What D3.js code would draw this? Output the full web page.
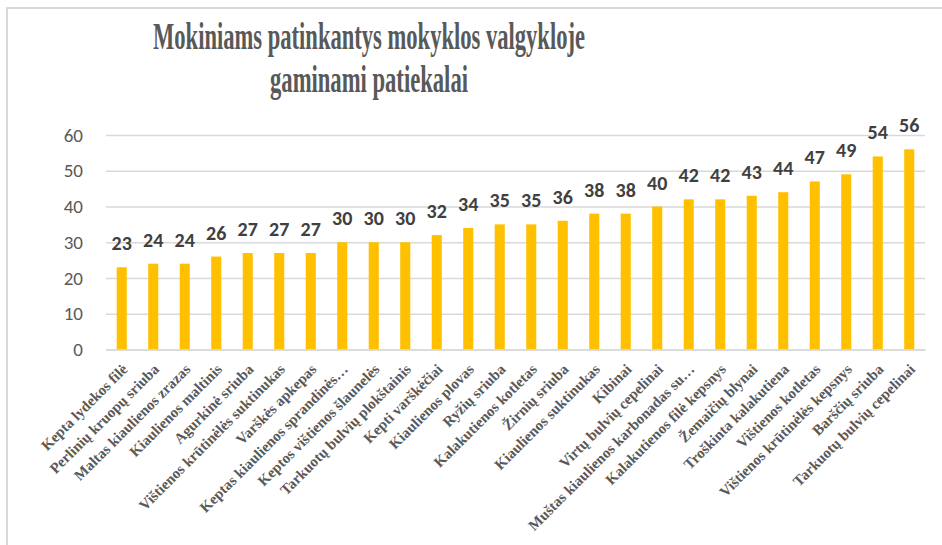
<!DOCTYPE html>
<html>
<head>
<meta charset="utf-8">
<script src="https://cdn.jsdelivr.net/npm/d3@7"></script>
<style>
  body { margin: 0; background: #fff; }
  svg { display: block; }
</style>
</head>
<body>
<svg id="chart" width="942" height="545"></svg>
<script>
// dishes, sorted as in the source chart
var dishes = [
  "Kepta lydekos filė", "Perlinių kruopų sriuba", "Maltas kiaulienos zrazas",
  "Kiaulienos maltinis", "Agurkinė sriuba", "Vištienos krūtinėlės suktinukas",
  "Varškės apkepas", "Keptas kiaulienos sprandinės…", "Keptos vištienos šlaunelės",
  "Tarkuotų bulvių plokštainis", "Kepti varškėčiai", "Kiaulienos plovas",
  "Ryžių sriuba", "Kalakutienos kotletas", "Žirnių sriuba",
  "Kiaulienos suktinukas", "Kibinai", "Virtų bulvių cepelinai",
  "Muštas kiaulienos karbonadas su…", "Kalakutienos filė kepsnys", "Žemaičių blynai",
  "Troškinta kalakutiena", "Vištienos kotletas", "Vištienos krūtinėlės kepsnys",
  "Barščių sriuba", "Tarkuotų bulvių cepelinai"
];
var votes = [23, 24, 24, 26, 27, 27, 27, 30, 30, 30, 32, 34, 35, 35, 36, 38, 38, 40, 42, 42, 43, 44, 47, 49, 54, 56];
var yTicks = [0, 10, 20, 30, 40, 50, 60];
var titleLines = ["Mokiniams patinkantys mokyklos valgykloje", "gaminami patiekalai"];

var svg = d3.select("#chart");

// chart frame (right and bottom edges fall outside the picture)
svg.append("rect").attr("x", 7).attr("y", 8).attr("width", 960).attr("height", 560)
  .attr("fill", "#fff").attr("stroke", "#d9d9d9").attr("stroke-width", 2);

var x = d3.scaleBand().domain(dishes).range([106, 925]).paddingInner(0.68).paddingOuter(0.34);
var y = d3.scaleLinear().domain([0, 60]).range([349.5, 135]);

// title, squeezed like the original
var titleWidths = [432, 198];
svg.selectAll("text.title").data(titleLines).enter().append("text")
  .attr("class", "title")
  .attr("x", 369).attr("y", function(d, i) { return 49 + i * 43; })
  .attr("text-anchor", "middle")
  .attr("textLength", function(d, i) { return titleWidths[i]; })
  .attr("lengthAdjust", "spacingAndGlyphs")
  .style("font-family", "'Liberation Serif', 'Times New Roman', serif")
  .style("font-weight", "bold").style("font-size", "38px").style("fill", "#595959")
  .text(function(d) { return d; });

// gridlines + y axis labels
var yAxis = d3.axisLeft(y).tickValues(yTicks).tickSize(-(925 - 106)).tickPadding(23);
var gy = svg.append("g").attr("transform", "translate(106,0)").call(yAxis);
gy.select(".domain").remove();
gy.selectAll(".tick line").attr("stroke", "#d9d9d9").attr("stroke-width", 1.5);
gy.selectAll(".tick text").style("font-family", "Carlito, Calibri, 'Open Sans', sans-serif")
  .style("font-size", "19px").style("fill", "#595959");

// bars
svg.selectAll("rect.bar").data(votes).enter().append("rect")
  .attr("class", "bar")
  .attr("x", function(d, i) { return x(dishes[i]); })
  .attr("width", x.bandwidth())
  .attr("y", function(d) { return y(d); })
  .attr("height", function(d) { return y(0) - y(d); })
  .attr("fill", "#ffc000");

// value labels
svg.selectAll("text.val").data(votes).enter().append("text")
  .attr("class", "val")
  .attr("x", function(d, i) { return x(dishes[i]) + x.bandwidth() / 2; })
  .attr("y", function(d) { return y(d) - 17; })
  .attr("text-anchor", "middle")
  .style("font-family", "Carlito, Calibri, 'Open Sans', sans-serif")
  .style("font-weight", "bold").style("font-size", "20px").style("fill", "#404040")
  .text(function(d) { return d; });

// category labels, rotated
var xAxis = d3.axisBottom(x).tickSize(0).tickPadding(0);
var gx = svg.append("g").attr("transform", "translate(0," + y(0) + ")").call(xAxis);
gx.select(".domain").attr("stroke", "#d9d9d9").attr("stroke-width", 1.5);
gx.selectAll(".tick text")
  .attr("text-anchor", "end")
  .attr("dy", "0.35em")
  .attr("transform", "translate(3,17) rotate(-45)")
  .style("font-family", "'Liberation Serif', 'Times New Roman', serif")
  .style("font-weight", "bold").style("font-size", "15px").style("fill", "#595959");
</script>
</body>
</html>
